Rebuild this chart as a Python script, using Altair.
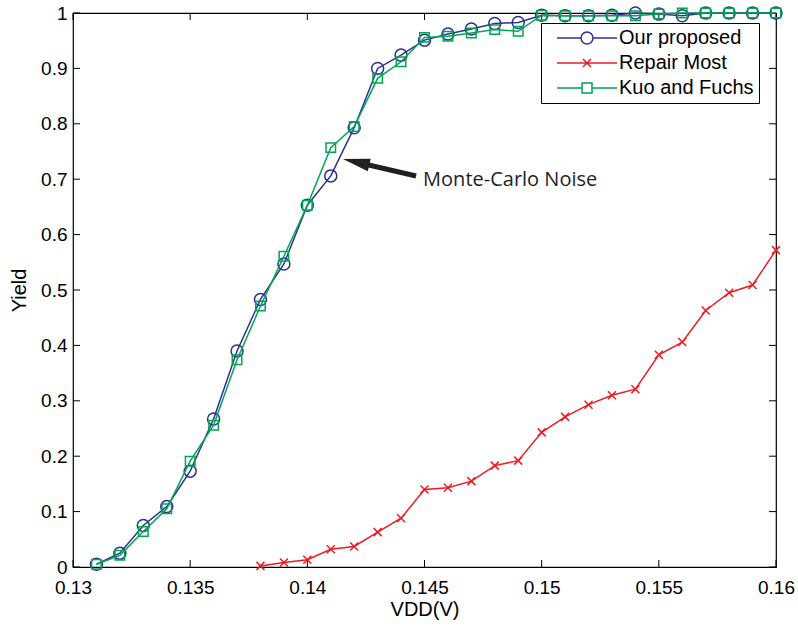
import altair as alt
import pandas as pd

# ---------------- data ----------------
vdd = [0.131, 0.132, 0.133, 0.134, 0.135, 0.136, 0.137, 0.138, 0.139, 0.140,
       0.141, 0.142, 0.143, 0.144, 0.145, 0.146, 0.147, 0.148, 0.149, 0.150,
       0.151, 0.152, 0.153, 0.154, 0.155, 0.156, 0.157, 0.158, 0.159, 0.160]
our_proposed = [0.005, 0.025, 0.075, 0.109, 0.173, 0.267, 0.390, 0.483, 0.547, 0.653,
                0.706, 0.793, 0.900, 0.924, 0.951, 0.962, 0.971, 0.981, 0.983, 0.996,
                0.995, 0.995, 0.996, 1.000, 0.998, 0.995, 1.000, 1.000, 1.000, 1.000]
kuo_fuchs = [0.005, 0.021, 0.064, 0.105, 0.191, 0.256, 0.374, 0.471, 0.561, 0.653,
             0.757, 0.795, 0.882, 0.912, 0.956, 0.958, 0.964, 0.970, 0.967, 0.996,
             0.995, 0.995, 0.995, 0.995, 0.998, 1.000, 1.000, 1.000, 1.000, 1.000]
repair_vdd = [0.138, 0.139, 0.140, 0.141, 0.142, 0.143, 0.144, 0.145, 0.146, 0.147,
              0.148, 0.149, 0.150, 0.151, 0.152, 0.153, 0.154, 0.155, 0.156, 0.157,
              0.158, 0.159, 0.160]
repair_most = [0.002, 0.008, 0.013, 0.032, 0.037, 0.063, 0.088, 0.140, 0.143, 0.155,
               0.183, 0.192, 0.243, 0.271, 0.293, 0.310, 0.321, 0.383, 0.406, 0.463,
               0.495, 0.509, 0.572]

series_names = ["Our proposed", "Repair Most", "Kuo and Fuchs"]
series_colors = ["#2e3192", "#ed1c24", "#00a651"]

x_ticks = [0.13, 0.135, 0.14, 0.145, 0.15, 0.155, 0.16]
y_ticks = [0, 0.1, 0.2, 0.3, 0.4, 0.5, 0.6, 0.7, 0.8, 0.9, 1]

annot_text = ["Monte-Carlo Noise"]
annot_text_x = [0.14494]
annot_text_y = [0.6986]
arrow_tail_x = [0.14464]
arrow_tail_y = [0.7058]
arrow_neck_x = [0.14207]
arrow_neck_y = [0.7310]
arrow_tip_x = [0.14152]
arrow_tip_y = [0.7365]

# ---------------- tables ----------------
rows = []
for v, y in zip(vdd, our_proposed):
    rows.append({"vdd": v, "yield": y, "series": "Our proposed"})
for v, y in zip(repair_vdd, repair_most):
    rows.append({"vdd": v, "yield": y, "series": "Repair Most"})
for v, y in zip(vdd, kuo_fuchs):
    rows.append({"vdd": v, "yield": y, "series": "Kuo and Fuchs"})
df = pd.DataFrame(rows)
xt_df = pd.DataFrame({"t": x_ticks})
yt_df = pd.DataFrame({"t": y_ticks})

FONT = "Liberation Sans"
INK = "#231f20"
W, H = 703, 554
TL = 7  # inward tick length (px)

xs = alt.Scale(domain=[0.13, 0.16], nice=False, zero=False)
ys = alt.Scale(domain=[0, 1], nice=False, zero=False)


def enc(ch, xaxis=None, yaxis=None, xf="vdd", yf="yield"):
    return ch.encode(
        x=alt.X(f"{xf}:Q", scale=xs, axis=xaxis),
        y=alt.Y(f"{yf}:Q", scale=ys, axis=yaxis),
    )


# labelled axes (bottom / left)
ax_bottom = alt.Axis(orient="bottom", values=x_ticks, format="~g", ticks=False, domain=False,
                     grid=False, labelFlush=False, labelOverlap=False, labelPadding=11,
                     labelFont=FONT, labelFontSize=19, labelColor="black",
                     title="VDD(V)", titleFont=FONT, titleFontSize=20, titleFontWeight="normal",
                     titleColor="black", titlePadding=2)
ax_left = alt.Axis(orient="left", values=y_ticks, format="~g", ticks=False, domain=False,
                   grid=False, labelFlush=False, labelOverlap=False, labelPadding=6,
                   labelFont=FONT, labelFontSize=19, labelColor="black",
                   title="Yield", titleFont=FONT, titleFontSize=20, titleFontWeight="normal",
                   titleColor="black", titlePadding=11)

empty = alt.Chart(df).transform_filter("false")
axis_layer = enc(empty.mark_point(), ax_bottom, ax_left)

# inward ticks on all four sides (MATLAB style), positioned through the scales
tick_style = dict(color="black", strokeWidth=1)
ticks_bottom = alt.Chart(xt_df).mark_rule(**tick_style).encode(
    x=alt.X("t:Q", scale=xs, axis=None), y=alt.value(H), y2=alt.value(H - TL))
ticks_top = alt.Chart(xt_df).mark_rule(**tick_style).encode(
    x=alt.X("t:Q", scale=xs, axis=None), y=alt.value(0), y2=alt.value(TL))
ticks_left = alt.Chart(yt_df).mark_rule(**tick_style).encode(
    y=alt.Y("t:Q", scale=ys, axis=None), x=alt.value(0), x2=alt.value(TL))
ticks_right = alt.Chart(yt_df).mark_rule(**tick_style).encode(
    y=alt.Y("t:Q", scale=ys, axis=None), x=alt.value(W), x2=alt.value(W - TL))

# series layers (drawn in legend order: line then markers)
shapes = ["circle", "M-1,-1L1,1M-1,1L1,-1", "square"]
sizes = [144, 64, 90]
series_layers = []
for name, color, shape, size in zip(series_names, series_colors, shapes, sizes):
    sub = alt.Chart(df).transform_filter(alt.datum.series == name)
    series_layers.append(enc(sub.mark_line(color=color, strokeWidth=1.5)))
    series_layers.append(enc(sub.mark_point(shape=shape, size=size, color=color, filled=False,
                                            strokeWidth=1.5, opacity=1)))

# legend layer (no marks drawn, only the legend)
legend_paths = [
    "M0.1667,0H4.1667M6.1667,0H10.1667M6.1667,0A1,1 0 1,1 4.1667,0A1,1 0 1,1 6.1667,0",
    "M0.1667,0H10.1667M4.5,-0.67L5.83,0.67M4.5,0.67L5.83,-0.67",
    "M0.1667,0H4.3333M6,0H10.1667M4.3333,-0.8333H6V0.8333H4.3333Z",
]
leg = alt.Legend(title=None, orient="none", legendX=468, legendY=10, padding=5,
                 strokeColor="black", fillColor="white", symbolSize=144,
                 symbolStrokeWidth=1.5, symbolOpacity=1, labelFont=FONT, labelFontSize=20,
                 labelColor="black", labelOffset=53, rowPadding=5)
legend_layer = empty.mark_point(filled=False, strokeWidth=1.5).encode(
    x=alt.X("vdd:Q", scale=xs, axis=None),
    y=alt.Y("yield:Q", scale=ys, axis=None),
    color=alt.Color("series:N", scale=alt.Scale(domain=series_names, range=series_colors), legend=leg),
    shape=alt.Shape("series:N", scale=alt.Scale(domain=series_names, range=legend_paths), legend=leg),
)

# annotation
arrow_df = pd.DataFrame({"x": arrow_tail_x, "y": arrow_tail_y, "x2": arrow_neck_x, "y2": arrow_neck_y})
shaft = alt.Chart(arrow_df).mark_rule(strokeWidth=5, color=INK).encode(
    x=alt.X("x:Q", scale=xs, axis=None), y=alt.Y("y:Q", scale=ys, axis=None),
    x2="x2:Q", y2="y2:Q")
tip_df = pd.DataFrame({"x": arrow_tip_x, "y": arrow_tip_y})
head = enc(alt.Chart(tip_df).mark_point(shape="M0,0L2,-0.48L2,0.48Z", size=729, angle=13,
                                         filled=True, color=INK, opacity=1, strokeWidth=0),
           xf="x", yf="y")
text_df = pd.DataFrame({"x": annot_text_x, "y": annot_text_y, "t": annot_text})
label = enc(alt.Chart(text_df).mark_text(align="left", baseline="middle", font="Open Sans",
                                         fontSize=20, color=INK), xf="x", yf="y").encode(text="t:N")

chart = alt.layer(
    axis_layer, ticks_bottom, ticks_top, ticks_left, ticks_right,
    *series_layers, shaft, head, label, legend_layer
).resolve_axis(x="independent", y="independent").properties(
    width=W, height=H,
    autosize=alt.AutoSizeParams(type="none"),
    padding={"left": 73, "top": 13, "right": 22, "bottom": 60},
    background="white",
).configure_view(stroke="black", strokeWidth=1.2)

chart.save("out.html", embed_options={"renderer": "svg", "actions": False})
